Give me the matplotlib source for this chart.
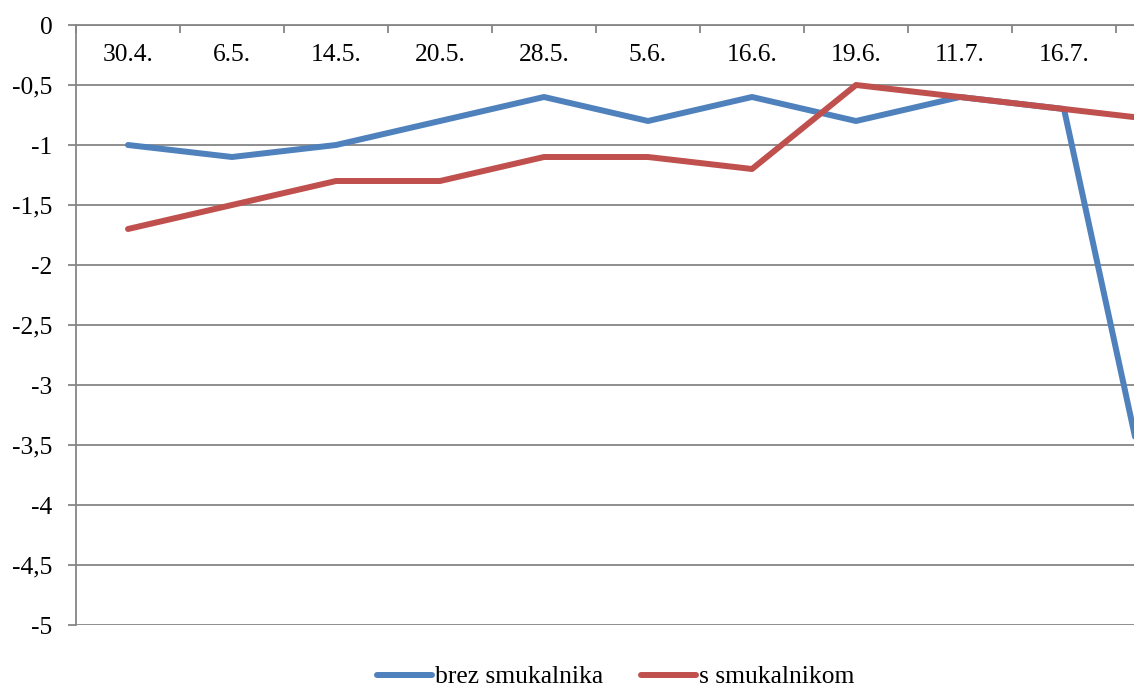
import matplotlib
matplotlib.use("Agg")
import matplotlib.pyplot as plt
import numpy as np

# data (the last date is cut off at the right edge)
datumi = ["30.4.", "6.5.", "14.5.", "20.5.", "28.5.", "5.6.", "16.6.", "19.6.", "11.7.", "16.7.", ""]
brez_smukalnika = [-1.0, -1.1, -1.0, -0.8, -0.6, -0.8, -0.6, -0.8, -0.6, -0.7, -4.7]
s_smukalnikom = [-1.7, -1.5, -1.3, -1.3, -1.1, -1.1, -1.2, -0.5, -0.6, -0.7, -0.8]
y_ticks = [0, -0.5, -1, -1.5, -2, -2.5, -3, -3.5, -4, -4.5, -5]

plt.rcParams['font.family'] = ['Liberation Serif', 'DejaVu Serif']
grey = '#868686'
fs = 18.4

fig = plt.figure(figsize=(11.34, 6.89), dpi=100)
W, H = 1134, 689
# plot area runs past the right edge, as in the original screenshot
ax = fig.add_axes([76 / W, 64 / H, (1220 - 76) / W, 600 / H])

x = np.arange(len(datumi))
ax.plot(x, brez_smukalnika, color='#4F81BD', lw=4.3, label='brez smukalnika',
        solid_joinstyle='round', solid_capstyle='round')
ax.plot(x, s_smukalnikom, color='#C0504D', lw=4.3, label='s smukalnikom',
        solid_joinstyle='round', solid_capstyle='round')

ax.set_xlim(-0.5, len(datumi) - 0.5)
ax.set_ylim(-5, 0)
ax.set_yticks(y_ticks)
ax.set_yticklabels([str(v).replace('.', ',') if v != int(v) else str(int(v)) for v in y_ticks])
ax.yaxis.grid(True, color=grey, lw=1.3)
ax.set_axisbelow(True)

for s in ['right', 'bottom']:
    ax.spines[s].set_visible(False)
for s in ['left', 'top']:
    ax.spines[s].set_color(grey)
    ax.spines[s].set_linewidth(1.3)

ax.tick_params(axis='y', length=6, width=1.3, color=grey, pad=11, labelsize=fs)

# category axis sits at y=0 (top), labels just below it
ax.xaxis.tick_top()
ax.set_xticks([])
ax.set_xticks(np.arange(len(datumi) + 1) - 0.5, minor=True)
ax.tick_params(axis='x', which='minor', direction='in', length=5.5, width=1.3, color=grey,
               top=True, bottom=False, labeltop=False)
for i, d in enumerate(datumi):
    ax.text(i, 0.95, d, transform=ax.get_xaxis_transform(), ha='center', va='center',
            fontsize=fs)

fig.legend(loc='center', bbox_to_anchor=(0.543, 1 - 677 / H), ncol=2, frameon=False,
           fontsize=fs, handlelength=2.15, handletextpad=0.12, columnspacing=1.45)

fig.savefig('out.png', dpi=100)
